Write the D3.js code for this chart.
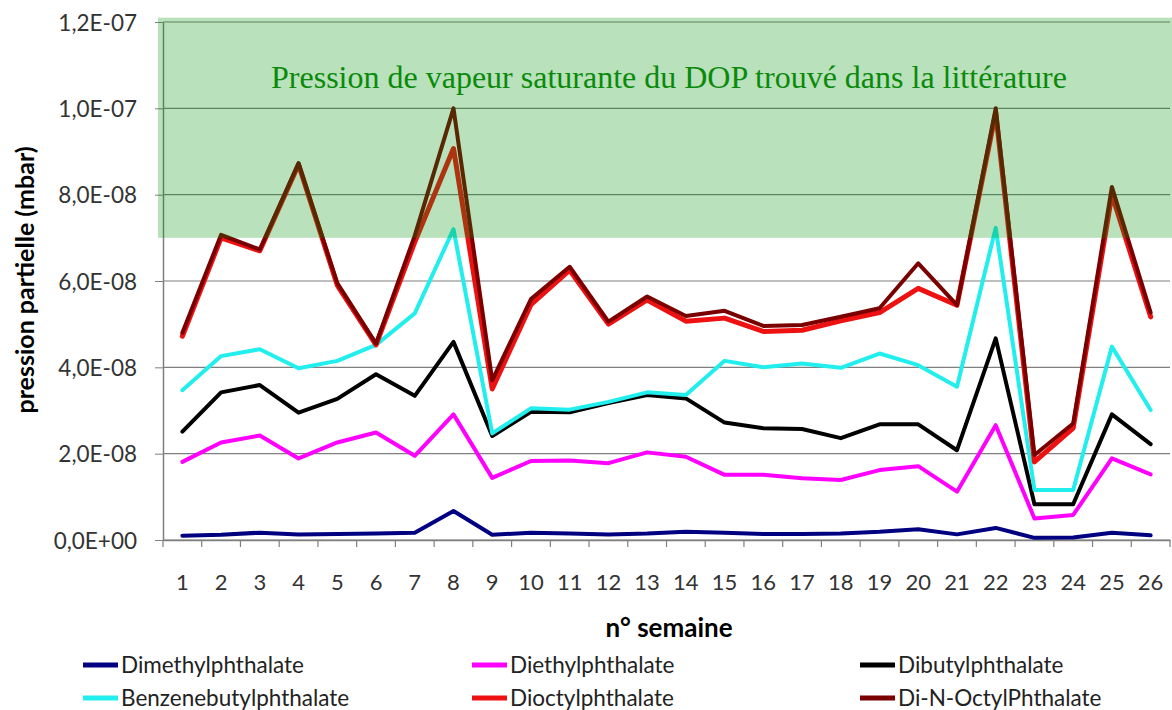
<!DOCTYPE html>
<html>
<head>
<meta charset="utf-8">
<script src="https://cdn.jsdelivr.net/npm/d3@7"></script>
<style>
  body { margin: 0; background: #fff; }
  text { font-family: Lato, "Open Sans", sans-serif; }
</style>
</head>
<body>
<script>
// semaines 1..26
let weeks = d3.range(1, 27);

// pressions partielles, en unites de 1E-8 mbar
let dimethyl     = [0.10,0.12,0.17,0.13,0.14,0.15,0.17,0.67,0.12,0.17,0.15,0.13,0.15,0.19,0.17,0.14,0.14,0.15,0.19,0.25,0.13,0.28,0.05,0.06,0.17,0.11];
let diethyl      = [1.81,2.26,2.42,1.89,2.26,2.49,1.95,2.91,1.44,1.83,1.84,1.78,2.03,1.93,1.51,1.51,1.43,1.39,1.62,1.71,1.12,2.66,0.50,0.58,1.89,1.52];
let dibutyl      = [2.51,3.42,3.59,2.95,3.27,3.84,3.34,4.59,2.41,2.97,2.96,3.17,3.36,3.28,2.72,2.59,2.57,2.36,2.68,2.68,2.08,4.67,0.83,0.83,2.91,2.22];
let benzenebutyl = [3.47,4.26,4.42,3.98,4.15,4.52,5.25,7.20,2.47,3.05,3.02,3.20,3.42,3.36,4.15,4.00,4.09,3.99,4.32,4.05,3.55,7.23,1.16,1.16,4.48,3.01];
let dioctyl      = [4.72,7.00,6.70,8.70,5.90,4.52,6.90,9.07,3.50,5.45,6.25,5.00,5.56,5.07,5.14,4.83,4.86,5.08,5.27,5.83,5.44,9.90,1.81,2.59,8.00,5.17];
let dinoctyl     = [4.80,7.07,6.73,8.73,5.95,4.55,7.05,10.0,3.70,5.58,6.33,5.06,5.64,5.19,5.31,4.96,4.98,5.17,5.37,6.41,5.44,10.0,1.97,2.70,8.18,5.27];

let seriesNames  = ["Dimethylphthalate","Diethylphthalate","Dibutylphthalate","Benzenebutylphthalate","Dioctylphthalate","Di-N-OctylPhthalate"];
let seriesValues = [dimethyl, diethyl, dibutyl, benzenebutyl, dioctyl, dinoctyl];
let yTicks = [0, 2e-8, 4e-8, 6e-8, 8e-8, 1e-7, 1.2e-7];
// zone "pression de vapeur saturante" (mbar)
let litBand = [7e-8, 1.21e-7];
let litLabel = "Pression de vapeur saturante du DOP trouvé dans la littérature";

let screen = {width: 1172, height: 710};
let plot = {left: 163, right: 1170, top: 22, bottom: 540};
let colors = ["#000080", "#ff00ff", "#000000", "#22eeee", "#ee1111", "#7a0000"];
let widths = [4, 4, 4, 4, 5, 4];

let xScale = d3.scaleBand().domain(weeks).range([plot.left, plot.right]);
let yScale = d3.scaleLinear().domain([0, 1.2e-7]).range([plot.bottom, plot.top]);

let fmtE = function(v) {
    if (v === 0) return "0,0E+00";
    let e = Math.floor(Math.log10(v) + 1e-9);
    let m = v / Math.pow(10, e);
    return m.toFixed(1).replace(".", ",") + "E-" + String(-e).padStart(2, "0");
};

let svg = d3.select("body").append("svg")
    .attr("width", screen.width)
    .attr("height", screen.height);

//gridlines
svg.append("g").selectAll("line")
    .data(yTicks)
    .enter().append("line")
    .attr("x1", plot.left).attr("x2", plot.right)
    .attr("y1", d => yScale(d)).attr("y2", d => yScale(d))
    .attr("stroke", "#7f7f7f").attr("stroke-width", 1.2);

//y-axis
let yAxis = svg.append("g")
    .attr("transform", "translate(" + plot.left + ",0)")
    .call(d3.axisLeft(yScale).tickValues(yTicks).tickFormat(fmtE).tickSize(8).tickSizeOuter(0));
yAxis.select(".domain").attr("stroke", "#7f7f7f").attr("stroke-width", 1.5);
yAxis.selectAll(".tick line").attr("stroke", "#7f7f7f");
yAxis.selectAll("text").attr("font-size", 22.5).attr("fill", "#333")
    .attr("x", -26).attr("dy", "0.36em")
    .style("font-family", "Lato, sans-serif");

//x-axis (labels drawn separately below)
let xAxis = svg.append("g")
    .attr("transform", "translate(0," + plot.bottom + ")")
    .call(d3.axisBottom(xScale).tickSize(0).tickFormat(""));
xAxis.select(".domain").attr("stroke", "#7f7f7f").attr("stroke-width", 1.5);
svg.append("g").selectAll("text")
    .data(weeks)
    .enter().append("text")
    .attr("x", d => xScale(d) + xScale.bandwidth() / 2)
    .attr("y", plot.bottom + 50)
    .attr("text-anchor", "middle")
    .attr("font-size", 22).attr("fill", "#333")
    .text(d => d);
// ticks between categories
svg.append("g").selectAll("line")
    .data(d3.range(0, weeks.length + 1))
    .enter().append("line")
    .attr("x1", i => plot.left + i * xScale.step()).attr("x2", i => plot.left + i * xScale.step())
    .attr("y1", plot.bottom).attr("y2", plot.bottom + 7)
    .attr("stroke", "#7f7f7f").attr("stroke-width", 1.2);

//lines
let line = d3.line()
    .x((d, i) => xScale(weeks[i]) + xScale.bandwidth() / 2)
    .y(d => yScale(d * 1e-8));
svg.append("g").selectAll("path")
    .data(seriesValues)
    .enter().append("path")
    .attr("d", d => line(d))
    .attr("fill", "none")
    .attr("stroke", (d, i) => colors[i])
    .attr("stroke-width", (d, i) => widths[i])
    .attr("stroke-linejoin", "round")
    .attr("stroke-linecap", "round");

//green band (over the lines)
svg.append("rect")
    .attr("x", plot.left - 5)
    .attr("y", yScale(litBand[1]))
    .attr("width", screen.width - plot.left + 5)
    .attr("height", yScale(litBand[0]) - yScale(litBand[1]))
    .attr("fill", "rgb(0,146,8)")
    .attr("fill-opacity", 0.275);
svg.append("text")
    .attr("x", 669).attr("y", 88)
    .attr("text-anchor", "middle")
    .attr("font-size", 32)
    .attr("fill", "#0a8a0a")
    .style("font-family", "'Liberation Serif', 'DejaVu Serif', serif")
    .text(litLabel);

//axis titles
svg.append("text")
    .attr("transform", "translate(34,280) rotate(-90)")
    .attr("text-anchor", "middle")
    .attr("font-size", 25).attr("font-weight", "bold")
    .text("pression partielle (mbar)");
svg.append("text")
    .attr("x", 669).attr("y", 637)
    .attr("text-anchor", "middle")
    .attr("font-size", 26).attr("font-weight", "bold")
    .text("n° semaine");

//legend
let legendX = [83, 472, 860];
let legendY = [665, 698];
let legend = svg.append("g").selectAll("g")
    .data(seriesNames)
    .enter().append("g")
    .attr("transform", (d, i) => "translate(" + legendX[i % 3] + "," + legendY[Math.floor(i / 3)] + ")");
legend.append("line")
    .attr("x1", 0).attr("x2", 35).attr("y1", 0).attr("y2", 0)
    .attr("stroke", (d, i) => colors[i])
    .attr("stroke-width", 5);
legend.append("text")
    .attr("x", 38).attr("y", 8)
    .attr("font-size", 22.5).attr("fill", "#222")
    .text(d => d);
</script>
</body>
</html>
